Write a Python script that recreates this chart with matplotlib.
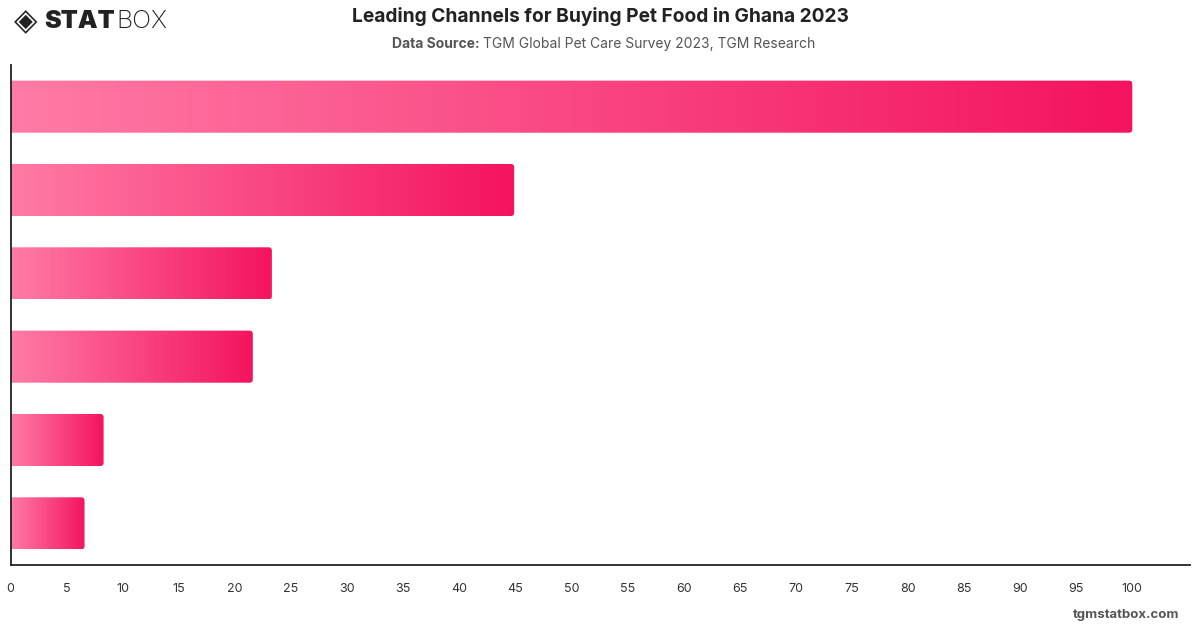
import matplotlib.pyplot as plt
import numpy as np
from matplotlib.colors import LinearSegmentedColormap
from matplotlib.patches import FancyBboxPatch

plt.rcParams['font.family'] = ['Inter', 'DejaVu Sans']

# values, top to bottom (labels are not shown in the chart)
values = [100.0, 44.9, 23.3, 21.6, 8.3, 6.6]
ticks = list(range(0, 105, 5))

title = "Leading Channels for Buying Pet Food in Ghana 2023"
source = "TGM Global Pet Care Survey 2023, TGM Research"

pink = LinearSegmentedColormap.from_list("pink", ["#FF7BA6", "#F4135F"])
grad = np.linspace(0, 1, 256).reshape(1, -1)

fig = plt.figure(figsize=(12, 6.28), dpi=100)
ax = fig.add_axes([0.00875, 0.1003, 0.9825, 0.7962])

n = len(values)
bar_h = 0.625
for i, v in enumerate(values):
    y = n - 1 - i
    im = ax.imshow(grad, cmap=pink, aspect='auto', interpolation='bicubic',
                   extent=(0, v, y - bar_h / 2, y + bar_h / 2), zorder=2)
    clip = FancyBboxPatch((-2, y - bar_h / 2), v + 2, bar_h,
                          boxstyle="round,pad=0,rounding_size=0.3",
                          mutation_aspect=0.135, transform=ax.transData,
                          facecolor='none', edgecolor='none')
    ax.add_patch(clip)
    im.set_clip_path(clip)

ax.set_xlim(0, 105.1)
ax.set_ylim(-0.5, n - 0.5)
ax.set_xticks(ticks)
ax.set_xticklabels([str(t) for t in ticks])
ax.set_yticks([])
ax.tick_params(axis='x', length=0, pad=13, labelsize=9, labelcolor='#333333')
for s in ['top', 'right']:
    ax.spines[s].set_visible(False)
for s in ['left', 'bottom']:
    ax.spines[s].set_color('#222222')
    ax.spines[s].set_linewidth(1.3)

fig.canvas.draw()
r = fig.canvas.get_renderer()

# header
fig.text(0.5, 0.973, title, ha='center', va='center', fontsize=13.8,
         fontweight='bold', color='#222222')
t1 = fig.text(0.327, 0.930, "Data Source: ", ha='left', va='center',
              fontsize=10, fontweight='bold', color='#555555')
w1 = t1.get_window_extent(r).width / fig.bbox.width
fig.text(0.327 + w1, 0.930, source, ha='left', va='center', fontsize=10,
         color='#555555')

# logo
fig.text(0.012, 0.966, "◈", ha='left', va='center', fontsize=22,
         color='#222222', family=['DejaVu Sans'])
s1 = fig.text(0.037, 0.966, "STAT", ha='left', va='center', fontsize=18,
              fontweight='black', color='#222222')
ws = s1.get_window_extent(r).width / fig.bbox.width
fig.text(0.037 + ws + 0.001, 0.966, "BOX", ha='left', va='center', fontsize=18,
         fontweight='light', color='#222222')

fig.text(0.983, 0.021, "tgmstatbox.com", ha='right', va='center',
         fontsize=9.5, fontweight='bold', color='#555555')

fig.savefig("out.png", dpi=100)
